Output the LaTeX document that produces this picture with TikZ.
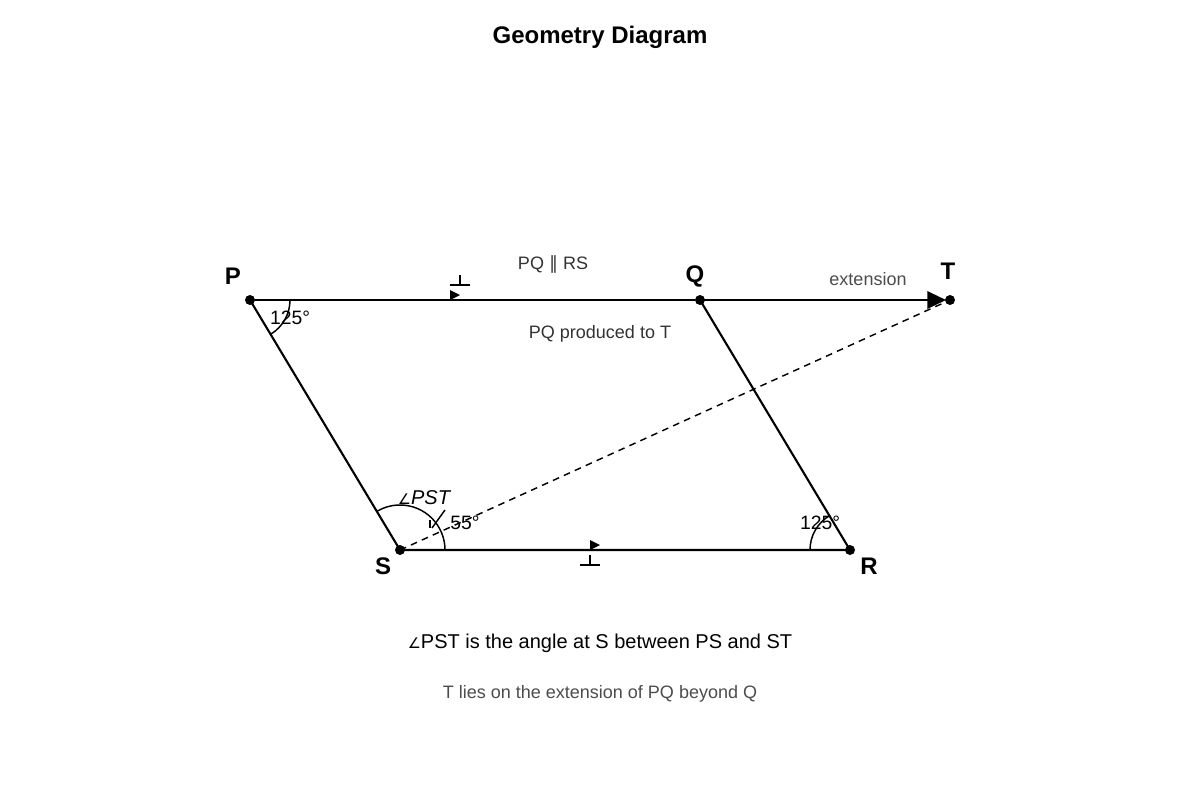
\documentclass[tikz,border=0pt]{standalone}
\usepackage{fontspec}
\setmainfont{Liberation Sans}
\newfontfamily\dejavu{DejaVu Sans}
\usetikzlibrary{arrows.meta}
\begin{document}
\begin{tikzpicture}[x=0.75pt,y=0.75pt,
  pt/.style={circle,fill=black,inner sep=0pt,minimum size=7.5pt},
  lbl/.style={font=\bfseries\fontsize{18}{20}\selectfont},
  ang/.style={font=\fontsize{14.5}{16}\selectfont},
  note/.style={font=\fontsize{13.5}{15}\selectfont,text=black!80},
  side/.style={line width=1.6pt},
  parmark/.style={fill=black}]
\useasboundingbox (0,0) rectangle (1200,-800);
\node[font=\bfseries\fontsize{18}{20}\selectfont] (title) at (600,-37) {Geometry Diagram};
\node[pt] (P) at (250,-300) {};
\node[pt] (Q) at (700,-300) {};
\node[pt] (T) at (950,-300) {};
\node[pt] (S) at (400,-550) {};
\node[pt] (R) at (850,-550) {};
\node[lbl] (lP) at (233,-276) {P};
\node[lbl] (lQ) at (695,-276) {Q};
\node[lbl] (lT) at (948,-271) {T};
\node[lbl] (lS) at (383,-566) {S};
\node[lbl] (lR) at (869,-566) {R};
\draw[side] (P) -- (Q);
\draw[side,-{Triangle[length=14pt,width=13pt]}] (Q.center) -- ([xshift=-3pt]T.center);
\draw[side] (P.center) -- (S.center) -- (R.center) -- (Q.center);
\draw[dashed,line width=1.1pt,dash pattern=on 5pt off 4pt] (S.center) -- (T.center);
% parallel markers
\fill[parmark] (450,-290) -- (460,-295) -- (450,-300) -- cycle;
\fill[parmark] (590,-540) -- (600,-545) -- (590,-550) -- cycle;
\draw[line width=1pt] (450,-285) -- (470,-285) (460,-285) -- (460,-275);
\draw[line width=1pt] (580,-565) -- (600,-565) (590,-565) -- (590,-555);
% angle arcs
\draw[line width=1.1pt] (250,-300) ++(-59:40) arc[start angle=-59,end angle=0,radius=40];
\draw[line width=1.1pt] (850,-550) ++(121:40) arc[start angle=121,end angle=180,radius=40];
\draw[line width=1.1pt] (400,-550) ++(0:45) arc[start angle=0,end angle=121,radius=45];
\draw[line width=1.1pt] (432,-528) -- (445,-510);
\draw[line width=1pt] (430,-520) -- (430,-528);
\node[ang] (a1) at (290,-318) {125°};
\node[ang] (a2) at (820,-523) {125°};
\node[ang] (a3) at (465,-523) {55°};
\node[ang,font=\itshape\fontsize{15}{16}\selectfont] (a4) at (424,-498) {{\dejavu\upshape\fontsize{11}{12}\selectfont∠}PST};
% notes
\node[note] (n1) at (553,-264) {PQ {\dejavu∥} RS};
\node[note] (n2) at (600,-334) {PQ produced to T};
\node[note,text=black!70] (n3) at (868,-279) {extension};
\node[font=\fontsize{15}{17}\selectfont] (c1) at (600,-643) {{\dejavu\fontsize{11}{12}\selectfont∠}PST is the angle at S between PS and ST};
\node[note,text=black!70] (c2) at (600,-694) {T lies on the extension of PQ beyond Q};
\end{tikzpicture}
\end{document}
